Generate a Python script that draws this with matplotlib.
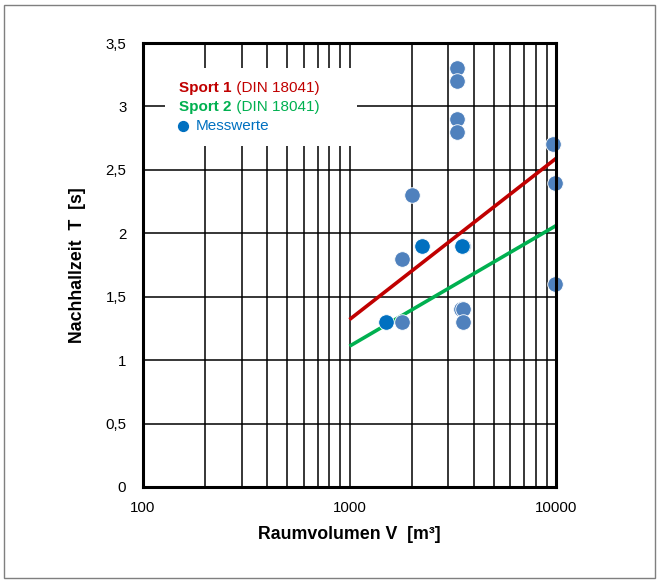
import numpy as np
import matplotlib
matplotlib.use("Agg")
import matplotlib.pyplot as plt
from matplotlib.patches import Rectangle
from matplotlib.ticker import FixedLocator, FuncFormatter

plt.rcParams['font.family'] = ['Liberation Sans', 'DejaVu Sans']

# DIN 18041 lines (volume range 1000..10000 m³)
line_V = [1000, 10000]
sport1_T = [1.32, 2.59]
sport2_T = [1.11, 2.06]

# measured values, light blue
meas_light_V = [1800, 1800, 2000, 3300, 3300, 3300, 3300, 3450, 3550, 3550, 3550, 9650, 9850, 9850]
meas_light_T = [1.3, 1.8, 2.3, 3.3, 3.2, 2.9, 2.8, 1.4, 1.4, 1.3, 1.9, 2.7, 2.4, 1.6]
# measured values, dark blue
meas_dark_V = [1500, 2250, 3500]
meas_dark_T = [1.3, 1.9, 1.9]

y_ticks = [0, 0.5, 1, 1.5, 2, 2.5, 3, 3.5]
x_ticks = [100, 1000, 10000]

fig = plt.figure(figsize=(6.59, 5.83), dpi=100)
ax = fig.add_axes([143/659, 1-487/583, 413/659, 444/583])

ax.set_xscale('log')
ax.set_xlim(100, 10000)
ax.set_ylim(0, 3.5)

# grid
minor = [v*d for d in (100, 1000) for v in range(2, 10)]
for v in minor + x_ticks:
    ax.axvline(v, color='black', lw=1.1, zorder=0.5)
for y in y_ticks:
    ax.axhline(y, color='black', lw=1.1, zorder=0.5)

# legend box
ax.add_patch(Rectangle((0.053, 0.768), 0.465, 0.176, transform=ax.transAxes,
                       facecolor='white', edgecolor='none', zorder=1.5))

ax.plot(line_V, sport1_T, color='#C00000', lw=2.6, zorder=3, solid_capstyle='butt')
ax.plot(line_V, sport2_T, color='#00B050', lw=2.6, zorder=3, solid_capstyle='butt')

ax.scatter(meas_light_V, meas_light_T, s=125, color='#4F81BD', edgecolor='white',
           linewidth=0.6, zorder=4, clip_on=False)
ax.scatter(meas_dark_V, meas_dark_T, s=125, color='#0070C0', edgecolor='white',
           linewidth=0.6, zorder=5, clip_on=False)

ax.xaxis.set_major_locator(FixedLocator(x_ticks))
ax.xaxis.set_minor_locator(FixedLocator([]))
ax.xaxis.set_major_formatter(FuncFormatter(lambda v, p: f"{int(v)}"))
ax.yaxis.set_major_locator(FixedLocator(y_ticks))
ax.yaxis.set_major_formatter(FuncFormatter(lambda v, p: (f"{v:g}").replace('.', ',')))
ax.tick_params(axis='both', length=0, labelsize=10.8, colors='black')
ax.tick_params(axis='x', pad=10)
ax.tick_params(axis='y', pad=12)

for s in ax.spines.values():
    s.set_linewidth(2.2)
    s.set_zorder(6)

ax.set_xlabel('Raumvolumen V  [m³]', fontsize=12.8, fontweight='bold', labelpad=8)
ax.set_ylabel('Nachhallzeit  T  [s]', fontsize=12.8, fontweight='bold', labelpad=14)

# legend texts
t1 = ax.text(0.088, 0.898, 'Sport 1', transform=ax.transAxes, fontsize=11,
             fontweight='bold', color='#C00000', va='center', zorder=7)
ax.annotate(' (DIN 18041)', xy=(1, 0.5), xycoords=t1, va='center', fontsize=11,
            color='#C00000', zorder=7)
t2 = ax.text(0.088, 0.855, 'Sport 2', transform=ax.transAxes, fontsize=11,
             fontweight='bold', color='#00B050', va='center', zorder=7)
ax.annotate(' (DIN 18041)', xy=(1, 0.5), xycoords=t2, va='center', fontsize=11,
            color='#00B050', zorder=7)
ax.scatter([0.097], [0.812], transform=ax.transAxes, s=50, color='#0070C0', zorder=7)
ax.text(0.128, 0.812, 'Messwerte', transform=ax.transAxes, fontsize=11,
        color='#0070C0', va='center', zorder=7)

fig.patches.append(Rectangle((4/659, 1-578/583), 651/659, 573/583,
                             transform=fig.transFigure, facecolor='none',
                             edgecolor='#7f7f7f', lw=1.0))

fig.savefig('out.png', dpi=100)
